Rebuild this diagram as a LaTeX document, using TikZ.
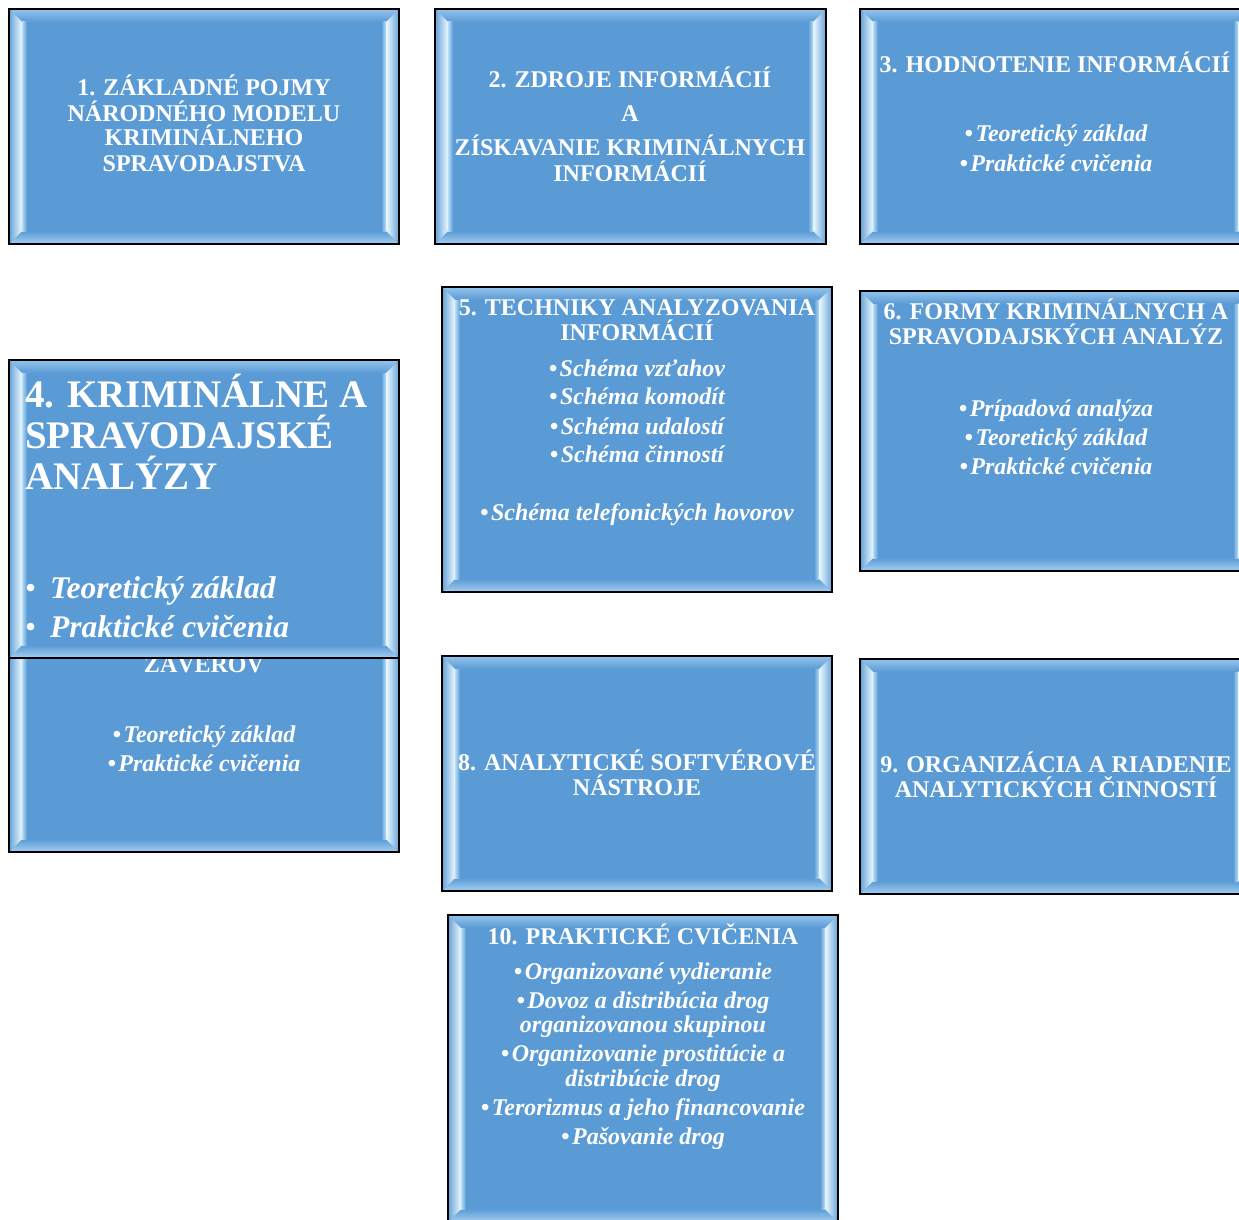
\documentclass[tikz,border=0pt]{standalone}
\usepackage{fontspec}
\setmainfont{Liberation Serif}
\definecolor{boxblue}{HTML}{5B9BD5}
\definecolor{facetop}{HTML}{93C3EC}
\definecolor{facebot}{HTML}{A4CFF2}
\definecolor{faceside}{HTML}{64A1D8}
\definecolor{glint}{HTML}{EEFAFF}
\definecolor{glow}{HTML}{B9DEF7}
\tikzset{
  boxbase/.style={draw=none, fill=boxblue, inner sep=0pt, outer sep=0pt},
  boxline/.style={draw=black, line width=1.6pt},
  % multi-line texts are placed by the baseline of their last line
  ttl/.style={text=white, font=\bfseries\fontsize{24}{25}\selectfont, align=center, inner sep=0pt, anchor=base},
  itm/.style={text=white, font=\bfseries\itshape\fontsize{24}{29}\selectfont, align=center, inner sep=0pt, anchor=base},
}
% bevel depth of the frame
\def\bv{13}
% \bevelbox{name}{x0}{y0}{x1}{y1}: a blue panel with a bevelled frame
\newcommand\bevelbox[5]{%
  \node[boxbase, minimum width={#4-#2}, minimum height={#5-#3}, anchor=north west] (#1) at (#2,#3) {};
  \shade[top color=facetop, bottom color=boxblue] (#2,#3) -- (#4,#3) -- (#4-\bv,#3+\bv) -- (#2+\bv,#3+\bv) -- cycle;
  \shade[bottom color=facebot, top color=boxblue] (#2,#5) -- (#4,#5) -- (#4-\bv,#5-\bv) -- (#2+\bv,#5-\bv) -- cycle;
  \shade[left color=faceside, right color=glint] (#2,#3) -- (#2+\bv,#3+\bv) -- (#2+\bv,#5-\bv) -- (#2,#5) -- cycle;
  \shade[right color=faceside, left color=glint] (#4,#3) -- (#4-\bv,#3+\bv) -- (#4-\bv,#5-\bv) -- (#4,#5) -- cycle;
  \shade[left color=glow, right color=boxblue] (#2+\bv,#3+\bv) rectangle (#2+\bv+5,#5-\bv);
  \shade[right color=glow, left color=boxblue] (#4-\bv-5,#3+\bv) rectangle (#4-\bv,#5-\bv);
  \draw[boxline] (#1.north west) rectangle (#1.south east);
}
\newcommand\bul{\textbullet\hspace{2.5pt}}
\begin{document}
\begin{tikzpicture}[x=1pt,y=-1pt]
\useasboundingbox (0,0) rectangle (1239,1220);
\fill[white] (0,0) rectangle (1239,1220);
\clip (0,0) rectangle (1239,1220);

% row 1
\bevelbox{b1}{9}{9}{399}{244}
\node[ttl] (t1) at (204,171) {1. ZÁKLADNÉ POJMY\\NÁRODNÉHO MODELU\\KRIMINÁLNEHO\\SPRAVODAJSTVA};

\bevelbox{b2}{435}{9}{826}{244}
\node[ttl] (t2) at (630,181) {2. ZDROJE INFORMÁCIÍ\\[10pt]A\\[9pt]ZÍSKAVANIE KRIMINÁLNYCH\\INFORMÁCIÍ};

\bevelbox{b3}{860}{9}{1251}{244}
\node[ttl] (t3) at (1055,73) {3. HODNOTENIE INFORMÁCIÍ};
\node[itm] (i3) at (1056,171) {\bul Teoretický základ\\\bul Praktické cvičenia};

% row 2
\bevelbox{b5}{442}{287}{832}{592}
\node[ttl] (t5) at (637,340) {5. TECHNIKY ANALYZOVANIA\\INFORMÁCIÍ};
\node[itm] (i5) at (637,520) {\bul Schéma vzťahov\\[-1pt]\bul Schéma komodít\\[1pt]\bul Schéma udalostí\\[-1pt]\bul Schéma činností\\[29pt]\bul Schéma telefonických hovorov};

\bevelbox{b6}{860}{291}{1251}{571}
\node[ttl] (t6) at (1056,344) {6. FORMY KRIMINÁLNYCH A\\SPRAVODAJSKÝCH ANALÝZ};
\node[itm] (i6) at (1056,474) {\bul Prípadová analýza\\\bul Teoretický základ\\\bul Praktické cvičenia};

% panel 7 lies under panel 4
\bevelbox{b7}{9}{617}{399}{852}
\node[ttl] (t7) at (204,672) {ZÁVEROV};
\node[itm] (i7) at (204,771) {\bul Teoretický základ\\\bul Praktické cvičenia};

\bevelbox{b4}{9}{360}{399}{658}
\node[text=white, font=\bfseries\fontsize{39}{41}\selectfont, align=left, inner sep=0pt, anchor=base west] (t4) at (25,489) {4. KRIMINÁLNE A\\SPRAVODAJSKÉ\\ANALÝZY};
\node[text=white, font=\bfseries\itshape\fontsize{31.5}{39}\selectfont, align=left, inner sep=0pt, anchor=base west] (i4) at (25,637) {\makebox[25pt][l]{\upshape\mdseries•}Teoretický základ\\\makebox[25pt][l]{\upshape\mdseries•}Praktické cvičenia};

% row 3
\bevelbox{b8}{442}{656}{832}{891}
\node[ttl] (t8) at (637,795) {8. ANALYTICKÉ SOFTVÉROVÉ\\NÁSTROJE};

\bevelbox{b9}{860}{659}{1251}{894}
\node[ttl] (t9) at (1056,797) {9. ORGANIZÁCIA A RIADENIE\\ANALYTICKÝCH ČINNOSTÍ};

% row 4
\bevelbox{b10}{448}{915}{838}{1222}
\node[ttl] (t10) at (643,944) {10. PRAKTICKÉ CVIČENIA};
\node[itm] (i10) at (643,1144) {\bul Organizované vydieranie\\\bul Dovoz a distribúcia drog\\[-5pt]organizovanou skupinou\\\bul Organizovanie prostitúcie a\\[-4pt]distribúcie drog\\\bul Terorizmus a jeho financovanie\\\bul Pašovanie drog};
\end{tikzpicture}
\end{document}
